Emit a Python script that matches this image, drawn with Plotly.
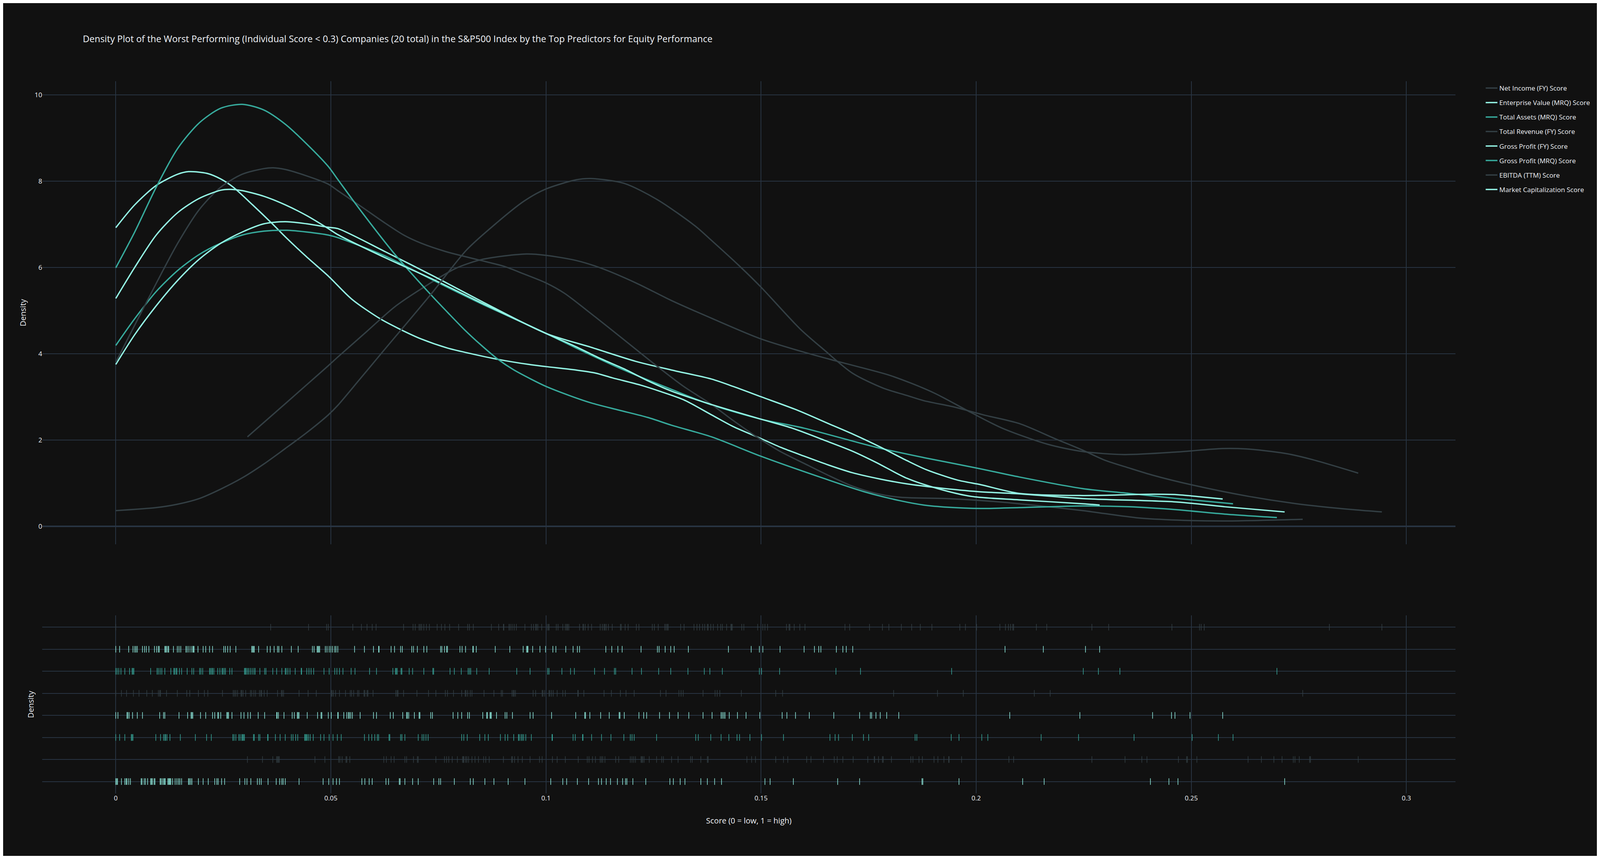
# -----------------------------------------------------------------------------------------#
# Density plot (curve + rug) of the worst performing S&P500 companies by the top predictors
# for equity performance. Dark theme, curves on top, rug strips underneath.
# -----------------------------------------------------------------------------------------#

import plotly.graph_objects as go


# -----------------------------------------------------------------------------------------#
# 1) Data
# Labels in trace order (the legend is shown reversed, so Net Income ends up on top).
# -----------------------------------------------------------------------------------------#

labels = [
    "Market Capitalization Score",
    "EBITDA (TTM) Score",
    "Gross Profit (MRQ) Score",
    "Gross Profit (FY) Score",
    "Total Revenue (FY) Score",
    "Total Assets (MRQ) Score",
    "Enterprise Value (MRQ) Score",
    "Net Income (FY) Score",
]

colors = ["#94F3E4", "#333F44", "#37AA9C", "#94F3E4", "#333F44", "#37AA9C", "#94F3E4", "#333F44"]

# individual scores (rug marks)
mc_scores = [
    0.0, 0.0002, 0.0004, 0.0013, 0.0021, 0.0024, 0.0026, 0.003, 0.0034, 0.0059, 0.0061, 0.0066,
    0.0069, 0.0074, 0.0081, 0.0083, 0.0085, 0.0089, 0.0091, 0.0103, 0.0105, 0.0108, 0.0111,
    0.0113, 0.0115, 0.0121, 0.0123, 0.0125, 0.0126, 0.0128, 0.0132, 0.0138, 0.0142, 0.0146,
    0.0149, 0.0153, 0.0169, 0.0171, 0.0174, 0.0177, 0.0192, 0.0203, 0.0215, 0.023, 0.0235,
    0.0238, 0.0246, 0.0253, 0.0288, 0.03, 0.0305, 0.0314, 0.0329, 0.0334, 0.0338, 0.0354,
    0.0373, 0.0381, 0.0386, 0.0389, 0.0394, 0.0426, 0.0482, 0.0495, 0.0505, 0.0513, 0.052,
    0.0572, 0.0579, 0.0589, 0.0596, 0.0628, 0.0634, 0.0659, 0.0661, 0.0672, 0.069, 0.0703,
    0.0739, 0.0751, 0.0755, 0.0787, 0.0824, 0.0831, 0.0858, 0.0879, 0.0912, 0.0951, 0.1011,
    0.1039, 0.1048, 0.1073, 0.1099, 0.1122, 0.1129, 0.114, 0.115, 0.1166, 0.1178, 0.1185,
    0.1188, 0.1202, 0.1232, 0.1288, 0.1296, 0.1312, 0.1323, 0.136, 0.1375, 0.1392, 0.1408,
    0.1509, 0.1521, 0.1575, 0.1678, 0.1729, 0.1874, 0.1876, 0.196, 0.2108, 0.2158, 0.2405,
    0.2448, 0.2469, 0.2717,
]

ebitda_scores = [
    0.0306, 0.0341, 0.0365, 0.0374, 0.0376, 0.0378, 0.038, 0.0463, 0.0486, 0.0518, 0.0521,
    0.0526, 0.0535, 0.0537, 0.0544, 0.0623, 0.0629, 0.064, 0.0647, 0.0672, 0.0676, 0.0692,
    0.0701, 0.0703, 0.0744, 0.0764, 0.0769, 0.0774, 0.0782, 0.0794, 0.0806, 0.0808, 0.0809,
    0.0813, 0.0816, 0.082, 0.0828, 0.0835, 0.0843, 0.0855, 0.086, 0.0868, 0.0901, 0.092,
    0.0922, 0.0927, 0.0935, 0.0945, 0.0963, 0.0985, 0.0991, 0.1015, 0.1026, 0.1045, 0.1075,
    0.1096, 0.11, 0.1108, 0.1115, 0.1126, 0.1129, 0.1132, 0.1137, 0.1162, 0.1169, 0.1196,
    0.12, 0.1204, 0.1208, 0.1221, 0.1223, 0.1225, 0.1228, 0.124, 0.1257, 0.1269, 0.1273,
    0.1292, 0.1307, 0.1336, 0.134, 0.136, 0.1375, 0.1377, 0.1467, 0.1478, 0.1487, 0.1534,
    0.1552, 0.1562, 0.1606, 0.1616, 0.1645, 0.167, 0.1677, 0.169, 0.1714, 0.1748, 0.1763,
    0.1764, 0.1773, 0.1782, 0.1784, 0.1803, 0.1848, 0.1853, 0.1867, 0.1875, 0.1902, 0.1911,
    0.1925, 0.1936, 0.1937, 0.1966, 0.2076, 0.2087, 0.2269, 0.2346, 0.2385, 0.2397, 0.247,
    0.2489, 0.2491, 0.2513, 0.2632, 0.2663, 0.2692, 0.2711, 0.2737, 0.2741, 0.2751, 0.2775,
    0.2777, 0.2888,
]

gp_mrq_scores = [
    0.0, 0.0009, 0.0021, 0.0036, 0.0038, 0.004, 0.0093, 0.0104, 0.0111, 0.0114, 0.0116,
    0.0119, 0.0126, 0.015, 0.0185, 0.0211, 0.0222, 0.0272, 0.0275, 0.0279, 0.0286, 0.0289,
    0.0293, 0.0295, 0.0297, 0.0299, 0.032, 0.0322, 0.0332, 0.0335, 0.0353, 0.0354, 0.0371,
    0.0382, 0.0394, 0.0408, 0.0412, 0.0418, 0.0423, 0.0439, 0.0441, 0.0443, 0.0445, 0.0448,
    0.0452, 0.0459, 0.0476, 0.0484, 0.0496, 0.0505, 0.0515, 0.0524, 0.0578, 0.0588, 0.0595,
    0.0602, 0.0608, 0.0611, 0.0635, 0.0637, 0.0662, 0.0665, 0.0672, 0.0703, 0.0712, 0.0716,
    0.0721, 0.0726, 0.0804, 0.0809, 0.0817, 0.0846, 0.0858, 0.0866, 0.0894, 0.0905, 0.0911,
    0.0925, 0.0936, 0.0938, 0.0942, 0.0945, 0.0948, 0.0953, 0.0966, 0.1014, 0.1015, 0.1063,
    0.1068, 0.1085, 0.1086, 0.1106, 0.1129, 0.1151, 0.1181, 0.1196, 0.12, 0.1205, 0.1257,
    0.1348, 0.1354, 0.1383, 0.1407, 0.1425, 0.1444, 0.145, 0.1474, 0.1501, 0.1552, 0.166,
    0.1672, 0.168, 0.1712, 0.1738, 0.175, 0.1858, 0.1862, 0.1942, 0.196, 0.2013, 0.2027,
    0.2151, 0.2238, 0.2367, 0.2502, 0.2563, 0.2597,
]

gp_fy_scores = [
    0.0, 0.0005, 0.0026, 0.0028, 0.0031, 0.0039, 0.005, 0.0062, 0.0102, 0.0111, 0.0114,
    0.0147, 0.0167, 0.0175, 0.0177, 0.0179, 0.0197, 0.0209, 0.0225, 0.023, 0.0237, 0.0239,
    0.0244, 0.0258, 0.026, 0.0262, 0.027, 0.0291, 0.0298, 0.0307, 0.0313, 0.0331, 0.0346,
    0.0374, 0.0375, 0.0378, 0.0391, 0.041, 0.0415, 0.0422, 0.0424, 0.0426, 0.0445, 0.0469,
    0.0477, 0.0479, 0.0494, 0.0501, 0.0516, 0.0517, 0.053, 0.0537, 0.0541, 0.0543, 0.0546,
    0.055, 0.0568, 0.0599, 0.0606, 0.0638, 0.0645, 0.0667, 0.0676, 0.0678, 0.0681, 0.0694,
    0.0705, 0.0707, 0.0732, 0.0736, 0.0784, 0.0795, 0.0804, 0.0818, 0.0822, 0.0853, 0.0862,
    0.0864, 0.087, 0.0871, 0.0873, 0.0885, 0.0905, 0.0909, 0.0922, 0.0963, 0.097, 0.1013,
    0.1069, 0.109, 0.1092, 0.1102, 0.1127, 0.1147, 0.117, 0.1172, 0.1182, 0.1216, 0.1227,
    0.1234, 0.1264, 0.1287, 0.1307, 0.1332, 0.1365, 0.1386, 0.1407, 0.141, 0.1413, 0.1416,
    0.1426, 0.1445, 0.1465, 0.1497, 0.1549, 0.156, 0.158, 0.1612, 0.1669, 0.1729, 0.1754,
    0.1757, 0.1767, 0.1777, 0.1792, 0.182, 0.2078, 0.2241, 0.241, 0.2454, 0.2462, 0.2497,
    0.2573,
]

tr_scores = [
    0.0, 0.0013, 0.0025, 0.0041, 0.0054, 0.0072, 0.0085, 0.0099, 0.0102, 0.0104, 0.0118,
    0.0143, 0.0165, 0.0172, 0.0192, 0.0206, 0.0214, 0.0248, 0.0273, 0.0276, 0.0279, 0.0283,
    0.0291, 0.0293, 0.0296, 0.0302, 0.0313, 0.0316, 0.0321, 0.0325, 0.0334, 0.0337, 0.0339,
    0.0345, 0.0352, 0.0376, 0.0385, 0.0387, 0.039, 0.0426, 0.0447, 0.0466, 0.0501, 0.0503,
    0.0506, 0.0511, 0.052, 0.0534, 0.0545, 0.0548, 0.0553, 0.0562, 0.0565, 0.0577, 0.0579,
    0.0584, 0.0586, 0.0598, 0.0651, 0.0654, 0.0656, 0.0669, 0.07, 0.0727, 0.0744, 0.0766,
    0.0771, 0.0785, 0.0804, 0.0812, 0.0814, 0.0818, 0.0824, 0.0828, 0.0856, 0.0879, 0.0896,
    0.0899, 0.0921, 0.0924, 0.0926, 0.0929, 0.097, 0.0976, 0.0991, 0.0993, 0.0997, 0.1007,
    0.1009, 0.1013, 0.1017, 0.1026, 0.1039, 0.1045, 0.1074, 0.1075, 0.1088, 0.1135, 0.1152,
    0.1173, 0.1186, 0.1205, 0.1266, 0.1279, 0.1309, 0.1314, 0.1319, 0.1365, 0.1393, 0.1398,
    0.1404, 0.1454, 0.1534, 0.155, 0.1808, 0.191, 0.197, 0.2135, 0.2172, 0.2759,
]

ta_scores = [
    0.0, 0.0003, 0.0007, 0.0012, 0.0021, 0.0032, 0.0038, 0.004, 0.0042, 0.0081, 0.0096,
    0.0099, 0.0103, 0.0107, 0.0114, 0.0128, 0.0135, 0.0137, 0.014, 0.0142, 0.0148, 0.0153,
    0.0166, 0.0177, 0.0181, 0.0195, 0.0198, 0.0202, 0.0218, 0.022, 0.0223, 0.0225, 0.0228,
    0.0237, 0.0242, 0.0247, 0.0249, 0.0252, 0.0255, 0.0265, 0.027, 0.0299, 0.0301, 0.0303,
    0.0306, 0.0309, 0.0313, 0.0317, 0.0321, 0.0324, 0.0335, 0.0346, 0.0349, 0.0365, 0.0374,
    0.0386, 0.0394, 0.0396, 0.04, 0.0405, 0.0417, 0.0431, 0.0432, 0.0444, 0.0449, 0.0454,
    0.046, 0.0484, 0.0496, 0.0509, 0.0514, 0.052, 0.0528, 0.0547, 0.0556, 0.059, 0.0606,
    0.0644, 0.065, 0.0652, 0.0654, 0.0663, 0.0665, 0.0682, 0.069, 0.0716, 0.0737, 0.0739,
    0.0777, 0.0787, 0.0803, 0.0819, 0.0822, 0.0825, 0.0839, 0.0868, 0.0932, 0.0963, 0.1004,
    0.1007, 0.1037, 0.1057, 0.1066, 0.1113, 0.1136, 0.1159, 0.1162, 0.12, 0.1222, 0.1262,
    0.129, 0.133, 0.1368, 0.1381, 0.141, 0.1496, 0.1501, 0.1543, 0.1674, 0.1731, 0.1943,
    0.2249, 0.2284, 0.2334, 0.2699,
]

ev_scores = [
    0.0, 0.0009, 0.003, 0.004, 0.0044, 0.0047, 0.005, 0.0062, 0.0067, 0.0071, 0.0077, 0.009,
    0.0095, 0.0099, 0.0101, 0.0114, 0.0116, 0.0118, 0.0121, 0.0123, 0.0134, 0.0143, 0.0147,
    0.0151, 0.0163, 0.0166, 0.017, 0.0175, 0.0179, 0.018, 0.0182, 0.0191, 0.0203, 0.0209,
    0.0218, 0.0225, 0.0251, 0.0255, 0.026, 0.0266, 0.0279, 0.0316, 0.0318, 0.032, 0.0322,
    0.0332, 0.0352, 0.0359, 0.0368, 0.0376, 0.0379, 0.0386, 0.0408, 0.0424, 0.0457, 0.0461,
    0.0468, 0.047, 0.0472, 0.0474, 0.0487, 0.0491, 0.0496, 0.05, 0.0504, 0.0509, 0.0512,
    0.0516, 0.0555, 0.0578, 0.0599, 0.0611, 0.0612, 0.064, 0.0648, 0.0662, 0.0666, 0.0688,
    0.0692, 0.0701, 0.0716, 0.0723, 0.0755, 0.0758, 0.0764, 0.0769, 0.0771, 0.08, 0.0805,
    0.0813, 0.083, 0.0831, 0.0838, 0.0882, 0.0916, 0.0947, 0.0955, 0.0957, 0.0958, 0.0969,
    0.0986, 0.0999, 0.1016, 0.1023, 0.1046, 0.1063, 0.1073, 0.1078, 0.1139, 0.1153, 0.1167,
    0.1177, 0.1221, 0.1259, 0.1263, 0.1277, 0.129, 0.1298, 0.1331, 0.1424, 0.1477, 0.1496,
    0.1504, 0.1544, 0.16, 0.1624, 0.1634, 0.1639, 0.1675, 0.169, 0.1698, 0.1713, 0.2067,
    0.2156, 0.2254, 0.2287,
]

ni_scores = [
    0.0, 0.036, 0.0448, 0.049, 0.0494, 0.0551, 0.0571, 0.0584, 0.0596, 0.0605, 0.0669,
    0.0691, 0.0696, 0.0705, 0.0708, 0.0711, 0.0716, 0.0722, 0.0729, 0.0747, 0.0757, 0.0765,
    0.0776, 0.0797, 0.0818, 0.0822, 0.0831, 0.0873, 0.089, 0.0901, 0.0902, 0.0914, 0.0917,
    0.0921, 0.0926, 0.0931, 0.0951, 0.0966, 0.0971, 0.0976, 0.0978, 0.0981, 0.099, 0.1003,
    0.1006, 0.1007, 0.1024, 0.1028, 0.1039, 0.1045, 0.1048, 0.105, 0.1053, 0.1078, 0.1086,
    0.1087, 0.1091, 0.1098, 0.1106, 0.1126, 0.1131, 0.1135, 0.1137, 0.114, 0.1145, 0.1154,
    0.1173, 0.1175, 0.1184, 0.1191, 0.121, 0.1216, 0.1247, 0.1252, 0.1261, 0.1276, 0.1279,
    0.1282, 0.1284, 0.1313, 0.1321, 0.1344, 0.1351, 0.1357, 0.1364, 0.1369, 0.1375, 0.1377,
    0.1383, 0.1389, 0.1399, 0.1406, 0.141, 0.142, 0.143, 0.1431, 0.1433, 0.1455, 0.146,
    0.1492, 0.1504, 0.1509, 0.1515, 0.1559, 0.1565, 0.1567, 0.1577, 0.159, 0.1602, 0.1695,
    0.1706, 0.1752, 0.1782, 0.1797, 0.1826, 0.185, 0.187, 0.1897, 0.1962, 0.1975, 0.2001,
    0.2055, 0.2068, 0.2075, 0.208, 0.2085, 0.2087, 0.214, 0.2164, 0.2269, 0.2308, 0.2455,
    0.2519, 0.2523, 0.253, 0.2821, 0.2943,
]

# density curves (score, density)
mc_curve_x = [0.0, 0.0044, 0.0094, 0.0144, 0.0169, 0.0212, 0.0244, 0.0273, 0.0318, 0.0364,
              0.0394, 0.0444, 0.0494, 0.0549, 0.0616, 0.0666, 0.071, 0.0771, 0.0821, 0.0887,
              0.096, 0.1, 0.107, 0.1115, 0.1154, 0.122, 0.1264, 0.132, 0.1385, 0.1435, 0.15,
              0.1545, 0.1601, 0.1656, 0.1712, 0.1778, 0.1839, 0.1911, 0.2005, 0.21, 0.2248,
              0.2467, 0.2578, 0.2717]
mc_curve_y = [6.92, 7.45, 7.90, 8.16, 8.22, 8.18, 8.05, 7.86, 7.45, 7.01, 6.71, 6.24, 5.80,
              5.26, 4.80, 4.54, 4.34, 4.13, 4.01, 3.87, 3.75, 3.70, 3.62, 3.55, 3.44, 3.27,
              3.13, 2.93, 2.58, 2.31, 2.03, 1.83, 1.62, 1.42, 1.24, 1.09, 0.98, 0.89, 0.80,
              0.75, 0.64, 0.56, 0.45, 0.33]

ebitda_curve_x = [0.0306, 0.0394, 0.0444, 0.0494, 0.0516, 0.0583, 0.0649, 0.0727, 0.0793,
                  0.0854, 0.0954, 0.1, 0.107, 0.1126, 0.1209, 0.1292, 0.1385, 0.15, 0.1601,
                  0.1678, 0.1795, 0.185, 0.1906, 0.1989, 0.2061, 0.2166, 0.2248, 0.2344,
                  0.2467, 0.2572, 0.2628, 0.2717, 0.2779, 0.2888]
ebitda_curve_y = [2.07, 2.84, 3.28, 3.72, 3.92, 4.51, 5.09, 5.61, 5.99, 6.19, 6.31, 6.28,
                  6.16, 5.99, 5.64, 5.23, 4.82, 4.34, 4.03, 3.82, 3.51, 3.31, 3.07, 2.63,
                  2.27, 1.90, 1.73, 1.66, 1.72, 1.80, 1.79, 1.69, 1.55, 1.23]

gp_mrq_curve_x = [0.0, 0.0044, 0.0094, 0.0144, 0.0194, 0.0244, 0.0294, 0.0344, 0.0398,
                  0.0444, 0.0494, 0.0516, 0.0627, 0.0738, 0.0849, 0.1, 0.107, 0.1181, 0.1292,
                  0.1385, 0.15, 0.1601, 0.1767, 0.1878, 0.2, 0.21, 0.2248, 0.2355, 0.2467,
                  0.2597]
gp_mrq_curve_y = [4.19, 4.81, 5.44, 5.93, 6.30, 6.56, 6.75, 6.84, 6.86, 6.82, 6.75, 6.69,
                  6.26, 5.70, 5.16, 4.47, 4.13, 3.62, 3.17, 2.81, 2.48, 2.27, 1.83, 1.59,
                  1.35, 1.14, 0.87, 0.76, 0.64, 0.52]

gp_fy_curve_x = [0.0, 0.0044, 0.0094, 0.0144, 0.0194, 0.0244, 0.0294, 0.0344, 0.0394,
                 0.0444, 0.0494, 0.0516, 0.0627, 0.0738, 0.0849, 0.1, 0.1104, 0.1209, 0.1292,
                 0.1385, 0.1435, 0.15, 0.1584, 0.1656, 0.1712, 0.1778, 0.1839, 0.1884,
                 0.1956, 0.2011, 0.21, 0.2248, 0.2411, 0.2467, 0.2522, 0.2573]
gp_fy_curve_y = [3.75, 4.44, 5.11, 5.70, 6.19, 6.56, 6.82, 7.01, 7.06, 7.01, 6.93, 6.90,
                 6.36, 5.80, 5.22, 4.47, 4.15, 3.82, 3.62, 3.41, 3.24, 3.00, 2.69, 2.38,
                 2.14, 1.83, 1.52, 1.31, 1.07, 0.96, 0.76, 0.71, 0.74, 0.73, 0.68, 0.63]

tr_curve_x = [0.0, 0.0044, 0.0094, 0.0144, 0.0194, 0.0244, 0.0294, 0.0344, 0.0366, 0.0394,
              0.0444, 0.0494, 0.0516, 0.0572, 0.0627, 0.0671, 0.071, 0.0766, 0.0849, 0.0904,
              0.0948, 0.1, 0.1043, 0.1093, 0.1154, 0.1209, 0.1253, 0.132, 0.1385, 0.1435,
              0.149, 0.1545, 0.1601, 0.1656, 0.1712, 0.1767, 0.1823, 0.1933, 0.1989, 0.21,
              0.2248, 0.2377, 0.2467, 0.2578, 0.2759]
tr_curve_y = [3.80, 4.66, 5.63, 6.56, 7.34, 7.86, 8.16, 8.29, 8.31, 8.27, 8.12, 7.93, 7.78,
              7.40, 7.02, 6.74, 6.56, 6.37, 6.16, 6.02, 5.85, 5.64, 5.40, 5.02, 4.54, 4.10,
              3.75, 3.24, 2.82, 2.45, 2.07, 1.73, 1.45, 1.18, 0.93, 0.76, 0.67, 0.64, 0.61,
              0.52, 0.36, 0.19, 0.14, 0.12, 0.16]

ta_curve_x = [0.0, 0.0044, 0.0094, 0.0144, 0.0194, 0.0244, 0.0294, 0.0344, 0.0394, 0.0444,
              0.0494, 0.0516, 0.0566, 0.0649, 0.0732, 0.0771, 0.081, 0.0849, 0.0887, 0.0924,
              0.0965, 0.1, 0.1054, 0.1104, 0.117, 0.1237, 0.1292, 0.1385, 0.15, 0.1645,
              0.1739, 0.1823, 0.1878, 0.1933, 0.2011, 0.21, 0.2248, 0.2355, 0.2467, 0.2578,
              0.2699]
ta_curve_y = [5.99, 6.82, 7.86, 8.76, 9.35, 9.69, 9.78, 9.65, 9.32, 8.86, 8.34, 8.04, 7.36,
              6.30, 5.37, 4.96, 4.56, 4.20, 3.88, 3.63, 3.41, 3.24, 3.03, 2.86, 2.69, 2.52,
              2.34, 2.07, 1.62, 1.11, 0.80, 0.59, 0.49, 0.44, 0.41, 0.43, 0.47, 0.45, 0.38,
              0.28, 0.20]

ev_curve_x = [0.0, 0.0044, 0.0094, 0.0144, 0.0194, 0.0244, 0.0264, 0.0294, 0.0344, 0.0394,
              0.0444, 0.0494, 0.0516, 0.0627, 0.0738, 0.0849, 0.1, 0.107, 0.1126, 0.1181,
              0.1237, 0.1292, 0.1385, 0.15, 0.1573, 0.1645, 0.1712, 0.1767, 0.1839, 0.1911,
              0.1989, 0.21, 0.2248, 0.2287]
ev_curve_y = [5.28, 6.00, 6.75, 7.27, 7.60, 7.79, 7.81, 7.78, 7.65, 7.45, 7.20, 6.90, 6.76,
              6.22, 5.72, 5.18, 4.47, 4.16, 3.89, 3.65, 3.37, 3.13, 2.82, 2.48, 2.27, 2.00,
              1.74, 1.48, 1.11, 0.87, 0.69, 0.61, 0.52, 0.49]

ni_curve_x = [0.0, 0.0094, 0.0144, 0.0194, 0.0244, 0.0294, 0.0344, 0.0394, 0.0444, 0.0494,
              0.0516, 0.0565, 0.0621, 0.0732, 0.0815, 0.0871, 0.0948, 0.0998, 0.107, 0.1104,
              0.1181, 0.1259, 0.1348, 0.1382, 0.1451, 0.15, 0.159, 0.1645, 0.1712, 0.1784,
              0.1839, 0.1878, 0.195, 0.2017, 0.21, 0.2183, 0.2248, 0.2299, 0.2355, 0.2411,
              0.25, 0.2634, 0.2745, 0.2879, 0.2943]
ni_curve_y = [0.36, 0.43, 0.51, 0.64, 0.86, 1.12, 1.44, 1.80, 2.17, 2.58, 2.80, 3.38, 4.05,
              5.37, 6.40, 6.91, 7.53, 7.81, 8.03, 8.06, 7.95, 7.57, 6.95, 6.65, 6.02, 5.54,
              4.58, 4.10, 3.55, 3.20, 3.03, 2.91, 2.76, 2.58, 2.38, 2.03, 1.76, 1.53, 1.35,
              1.18, 0.96, 0.69, 0.52, 0.38, 0.33]


# -----------------------------------------------------------------------------------------#
# 2) Build the figure: curves on y1, rug strips on y2, both sharing x1.
# The figure fills the browser window; sizes are set for a very large window.
# -----------------------------------------------------------------------------------------#

scores = [mc_scores, ebitda_scores, gp_mrq_scores, gp_fy_scores,
          tr_scores, ta_scores, ev_scores, ni_scores]
curves = [
    (mc_curve_x, mc_curve_y),
    (ebitda_curve_x, ebitda_curve_y),
    (gp_mrq_curve_x, gp_mrq_curve_y),
    (gp_fy_curve_x, gp_fy_curve_y),
    (tr_curve_x, tr_curve_y),
    (ta_curve_x, ta_curve_y),
    (ev_curve_x, ev_curve_y),
    (ni_curve_x, ni_curve_y),
]

fig = go.Figure()

# legend shows the last trace first
n = len(labels)

for i, (label, color, (cx, cy)) in enumerate(zip(labels, colors, curves)):
    fig.add_trace(
        go.Scatter(
            x=cx,
            y=cy,
            mode="lines",
            line=dict(color=color, width=3.5, shape="spline", smoothing=0.8),
            name=label,
            legendgroup=label,
            legendrank=100 * (n - i),
            xaxis="x",
            yaxis="y",
        )
    )

for i, (label, color, vals) in enumerate(zip(labels, colors, scores)):
    fig.add_trace(
        go.Scatter(
            x=vals,
            y=[label] * len(vals),
            mode="markers",
            marker=dict(color=color, symbol="line-ns-open", size=12,
                        line=dict(color=color, width=1.5)),
            name=label,
            legendgroup=label,
            legendrank=100 * (n - i),
            showlegend=False,
            xaxis="x",
            yaxis="y2",
        )
    )

fig.update_layout(
    template="plotly_dark",
    font=dict(size=17),
    margin=dict(l=100, r=40, t=200, b=160),
    title=dict(
        text="Density Plot of the Worst Performing (Individual Score < 0.3) Companies (20 total) "
             "in the S&P500 Index by the Top Predictors for Equity Performance",
        font=dict(size=23.5),
    ),
    hovermode="closest",
    legend=dict(traceorder="grouped", tracegroupgap=12),
    xaxis=dict(domain=[0.0, 1.0], anchor="y2", zeroline=False, gridwidth=1.5,
               title=dict(text="Score (0 = low, 1 = high)", standoff=40)),
    yaxis=dict(domain=[0.35, 1], anchor="free", position=0.0, title="Density",
               gridwidth=2, zerolinewidth=4),
    yaxis2=dict(domain=[0, 0.25], anchor="x", dtick=1, showticklabels=False,
                title="Density", gridwidth=2),
)

fig.write_html("out.html")
